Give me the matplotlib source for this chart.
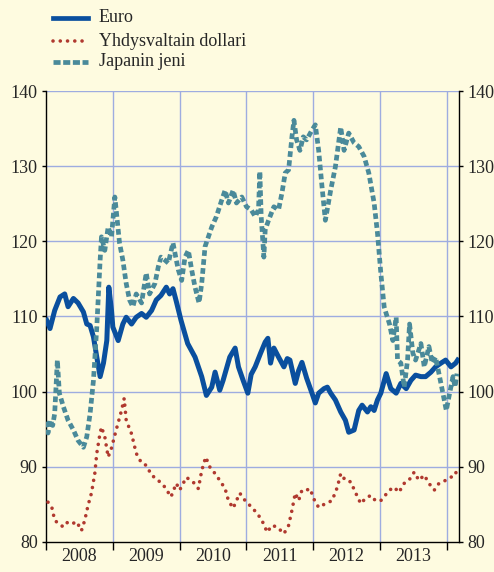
import matplotlib
matplotlib.use("Agg")
import matplotlib.pyplot as plt
from matplotlib.lines import Line2D
import numpy as np

# ---------------- data (decimal years, index values) ----------------
euro_t = [2008.01, 2008.06, 2008.13, 2008.21, 2008.28, 2008.33, 2008.41, 2008.48, 2008.56, 2008.61,
          2008.66, 2008.71, 2008.76, 2008.81, 2008.86, 2008.91, 2008.94, 2008.98, 2009.00, 2009.08,
          2009.15, 2009.20, 2009.28, 2009.35, 2009.43, 2009.50, 2009.58, 2009.65, 2009.72, 2009.80,
          2009.85, 2009.90, 2009.95, 2010.02, 2010.12, 2010.23, 2010.33, 2010.40, 2010.48, 2010.53,
          2010.60, 2010.65, 2010.75, 2010.83, 2010.88, 2010.95, 2011.02, 2011.07, 2011.13, 2011.21,
          2011.28, 2011.32, 2011.36, 2011.41, 2011.48, 2011.56, 2011.61, 2011.65, 2011.73, 2011.78,
          2011.83, 2011.90, 2011.98, 2012.03, 2012.08, 2012.16, 2012.21, 2012.26, 2012.33, 2012.41,
          2012.48, 2012.53, 2012.61, 2012.68, 2012.73, 2012.81, 2012.86, 2012.91, 2012.96, 2013.01,
          2013.09, 2013.16, 2013.24, 2013.31, 2013.39, 2013.46, 2013.53, 2013.61, 2013.68, 2013.76,
          2013.83, 2013.91, 2013.98, 2014.06, 2014.13, 2014.16]
euro_v = [109.5, 108.4, 110.8, 112.6, 113.0, 111.3, 112.4, 111.8, 110.6, 109.0,
          108.8, 107.3, 104.6, 102.0, 103.8, 106.8, 113.9, 110.8, 108.6, 106.8,
          109.0, 109.9, 109.0, 109.9, 110.4, 109.9, 110.8, 112.2, 112.8, 113.9,
          113.0, 113.7, 112.0, 109.5, 106.4, 104.6, 102.0, 99.5, 100.6, 102.6,
          100.2, 101.5, 104.6, 105.8, 103.3, 101.5, 99.8, 102.3, 103.3, 105.1,
          106.6, 107.1, 103.8, 105.8, 104.6, 103.3, 104.4, 104.2, 101.1, 102.8,
          103.9, 101.8, 99.8, 98.5, 99.8, 100.4, 100.6, 99.8, 98.9, 97.3,
          96.2, 94.6, 94.9, 97.5, 98.2, 97.3, 98.0, 97.5, 98.9, 99.8,
          102.4, 100.4, 99.8, 101.1, 100.4, 101.5, 102.2, 102.0, 102.0, 102.6,
          103.3, 103.8, 104.2, 103.3, 103.8, 104.2]

usd_t = [2008.03, 2008.09, 2008.13, 2008.18, 2008.26, 2008.33, 2008.41, 2008.46, 2008.53, 2008.58,
         2008.63, 2008.68, 2008.73, 2008.76, 2008.80, 2008.83, 2008.88, 2008.93, 2008.98, 2009.05,
         2009.13, 2009.17, 2009.20, 2009.28, 2009.35, 2009.43, 2009.50, 2009.58, 2009.68, 2009.78,
         2009.87, 2009.95, 2010.00, 2010.10, 2010.20, 2010.28, 2010.33, 2010.39, 2010.45, 2010.53,
         2010.60, 2010.68, 2010.73, 2010.80, 2010.90, 2010.98, 2011.08, 2011.16, 2011.23, 2011.31,
         2011.38, 2011.46, 2011.56, 2011.63, 2011.68, 2011.73, 2011.78, 2011.83, 2011.90, 2011.95,
         2012.02, 2012.08, 2012.18, 2012.28, 2012.36, 2012.41, 2012.48, 2012.56, 2012.63, 2012.71,
         2012.78, 2012.86, 2012.93, 2013.01, 2013.14, 2013.21, 2013.28, 2013.36, 2013.43, 2013.51,
         2013.58, 2013.66, 2013.73, 2013.81, 2013.88, 2013.98, 2014.06, 2014.13, 2014.15]
usd_v = [85.3, 84.5, 82.9, 82.5, 82.0, 82.7, 82.5, 82.7, 81.5, 82.9,
         84.9, 86.5, 89.1, 91.8, 94.0, 95.3, 94.0, 91.3, 92.5, 94.9,
         97.5, 99.1, 96.2, 94.4, 91.8, 90.5, 90.2, 88.9, 88.2, 87.3,
         86.0, 87.8, 86.9, 88.6, 88.0, 87.1, 89.5, 91.3, 90.0, 89.1,
         88.2, 87.1, 85.5, 84.5, 86.5, 85.5, 84.6, 83.8, 82.9, 81.3,
         82.2, 82.0, 81.1, 82.2, 84.2, 86.5, 85.5, 86.9, 86.9, 87.1,
         85.5, 84.6, 85.1, 85.5, 87.3, 89.1, 88.2, 88.0, 86.6, 85.1,
         85.8, 86.2, 85.5, 85.5, 86.9, 87.3, 86.6, 87.8, 88.2, 89.3,
         88.2, 88.9, 87.8, 86.9, 87.8, 88.2, 88.6, 89.3, 88.9]

jpy_t = [2008.00, 2008.03, 2008.06, 2008.10, 2008.13, 2008.17, 2008.20, 2008.26, 2008.33, 2008.41,
         2008.48, 2008.56, 2008.61, 2008.66, 2008.71, 2008.76, 2008.81, 2008.83, 2008.88, 2008.93,
         2008.98, 2009.03, 2009.05, 2009.10, 2009.15, 2009.20, 2009.25, 2009.30, 2009.35, 2009.43,
         2009.50, 2009.55, 2009.63, 2009.68, 2009.72, 2009.78, 2009.83, 2009.90, 2009.95, 2009.98,
         2010.03, 2010.08, 2010.13, 2010.18, 2010.23, 2010.29, 2010.33, 2010.38, 2010.43, 2010.48,
         2010.55, 2010.63, 2010.68, 2010.73, 2010.80, 2010.85, 2010.93, 2011.00, 2011.07, 2011.13,
         2011.18, 2011.20, 2011.22, 2011.26, 2011.28, 2011.33, 2011.41, 2011.48, 2011.53, 2011.58,
         2011.63, 2011.68, 2011.71, 2011.75, 2011.80, 2011.85, 2011.90, 2011.98, 2012.03, 2012.08,
         2012.13, 2012.18, 2012.26, 2012.33, 2012.41, 2012.46, 2012.53, 2012.61, 2012.68, 2012.76,
         2012.83, 2012.91, 2012.96, 2013.01, 2013.06, 2013.09, 2013.14, 2013.19, 2013.24, 2013.26,
         2013.31, 2013.36, 2013.41, 2013.44, 2013.49, 2013.53, 2013.61, 2013.66, 2013.73, 2013.78,
         2013.83, 2013.88, 2013.93, 2013.99, 2014.04, 2014.09, 2014.12, 2014.15]
jpy_v = [96.0, 94.5, 96.2, 95.5, 97.1, 104.2, 99.8, 98.0, 96.2, 94.9,
         93.5, 92.6, 94.0, 97.1, 101.5, 108.6, 117.5, 120.6, 118.8, 121.9,
         120.6, 125.9, 124.2, 119.8, 117.5, 114.4, 112.2, 111.3, 113.0, 111.8,
         115.8, 113.0, 114.4, 116.6, 117.9, 117.5, 117.1, 119.8, 117.5, 116.2,
         114.8, 117.9, 118.8, 116.2, 113.9, 111.8, 114.4, 119.3, 120.6, 121.9,
         123.3, 125.5, 126.8, 125.1, 126.8, 125.1, 125.9, 124.6, 124.2, 123.3,
         124.2, 129.3, 123.3, 117.9, 121.5, 122.8, 124.6, 124.2, 126.4, 129.1,
         129.5, 133.9, 136.1, 133.5, 132.1, 133.9, 133.5, 134.8, 135.5, 132.1,
         127.3, 122.8, 126.8, 129.9, 135.2, 132.1, 134.4, 133.1, 132.6, 131.3,
         129.1, 125.1, 121.1, 115.8, 111.3, 110.4, 109.0, 106.8, 109.9, 104.2,
         103.8, 100.6, 104.2, 109.0, 105.1, 104.2, 106.4, 103.3, 106.0, 103.8,
         104.6, 102.4, 100.2, 97.5, 99.8, 102.0, 100.6, 102.4]

years = [2008, 2009, 2010, 2011, 2012, 2013]
series_labels = ["Euro", "Yhdysvaltain dollari", "Japanin jeni"]
y_ticks = [80, 90, 100, 110, 120, 130, 140]

# ---------------- style ----------------
bg = "#FEFBE0"
grid_c = "#9EACE0"
c_euro = "#0A4F9E"
c_usd = "#B0392F"
c_jpy = "#4A8A9A"
txt_c = "#262626"
plt.rcParams['font.family'] = ['Liberation Serif', 'DejaVu Serif']

W, H = 494, 572
fig = plt.figure(figsize=(W / 100, H / 100), dpi=100, facecolor=bg)
ax = fig.add_axes([46 / W, 1 - 542 / H, (459 - 46) / W, (542 - 91) / H])
ax.set_facecolor(bg)

ax.plot(euro_t, euro_v, color=c_euro, lw=3.6, solid_joinstyle='round', zorder=3)
ax.plot(usd_t, usd_v, color=c_usd, lw=2.6, linestyle=(0, (0.01, 2.0)),
        dash_capstyle='round', zorder=4)
ax.plot(jpy_t, jpy_v, color=c_jpy, lw=3.4, linestyle=(0, (1.2, 0.7)),
        dash_capstyle='butt', zorder=5)

ax.set_xlim(2008.0, 2014.18)
ax.set_ylim(80, 140)

# grid
for yv in y_ticks[1:]:
    ax.axhline(yv, color=grid_c, lw=1.0, zorder=1)
for xv in years[1:] + [2014]:
    ax.axvline(xv, color=grid_c, lw=1.0, zorder=1)

# x axis: ticks at year boundaries, labels in between
ax.set_xticks(years + [2014])
ax.set_xticklabels([])
ax.set_xticks([y + 0.5 for y in years], minor=True)
ax.set_xticklabels([str(y) for y in years], minor=True)
ax.tick_params(axis='x', which='major', direction='out', length=6, width=1.0, color='black')
ax.tick_params(axis='x', which='minor', length=0, labelsize=13, labelcolor=txt_c, pad=4)

ax.set_yticks(y_ticks)
ax.set_yticklabels([str(v) for v in y_ticks])
ax.tick_params(axis='y', which='major', direction='out', length=3, width=1.0,
               labelsize=13, labelcolor=txt_c, left=True, right=True,
               labelleft=True, labelright=True, pad=3)

for s in ['left', 'right', 'bottom']:
    ax.spines[s].set_color('black')
    ax.spines[s].set_linewidth(1.0)
ax.spines['top'].set_visible(False)

# legend drawn manually above the axes
leg_rows = [(18, c_euro, dict(lw=3.4, linestyle='-')),
            (41, c_usd, dict(lw=2.6, linestyle=(0, (0.01, 2.0)), dash_capstyle='round')),
            (62, c_jpy, dict(lw=3.4, linestyle=(0, (1.5, 0.55)), dash_capstyle='butt'))]
for (yy, col, kw), lab in zip(leg_rows, series_labels):
    fig.add_artist(Line2D([53 / W, 88 / W], [1 - yy / H, 1 - yy / H], color=col,
                          transform=fig.transFigure, **kw))
    fig.text(99 / W, 1 - yy / H, lab, fontsize=13, color=txt_c, va='center', ha='left')

fig.savefig("out.png", dpi=100, facecolor=bg)
